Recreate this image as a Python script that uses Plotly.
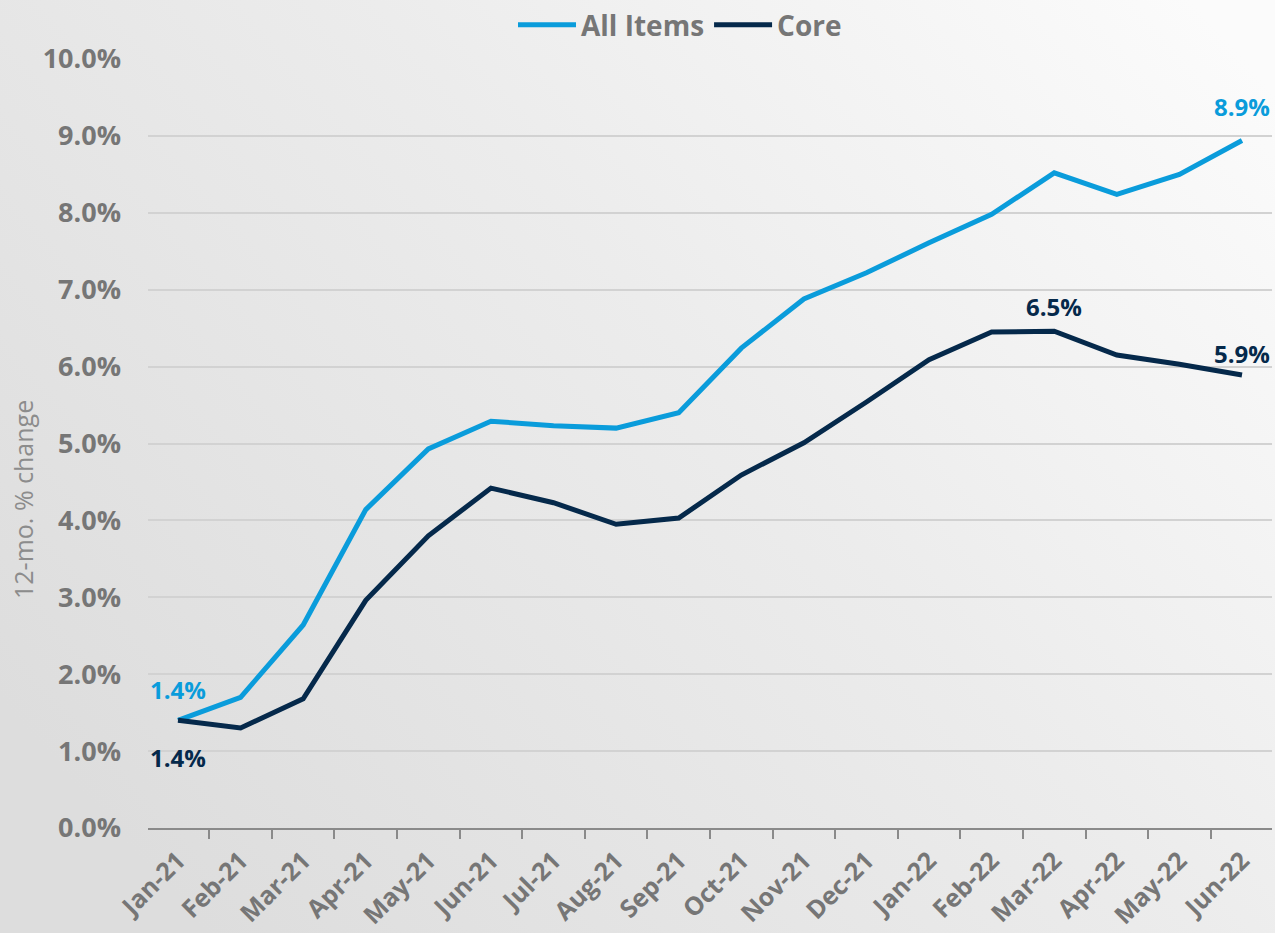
import plotly.graph_objects as go

months = ["Jan-21", "Feb-21", "Mar-21", "Apr-21", "May-21", "Jun-21", "Jul-21", "Aug-21",
          "Sep-21", "Oct-21", "Nov-21", "Dec-21", "Jan-22", "Feb-22", "Mar-22", "Apr-22",
          "May-22", "Jun-22"]
all_items = [1.4, 1.7, 2.64, 4.14, 4.93, 5.29, 5.23, 5.2, 5.4, 6.24, 6.88, 7.22, 7.61,
             7.98, 8.52, 8.24, 8.5, 8.94]
core = [1.4, 1.3, 1.68, 2.96, 3.8, 4.42, 4.23, 3.95, 4.03, 4.59, 5.01, 5.54, 6.09,
        6.45, 6.46, 6.15, 6.03, 5.89]

ytick_vals = [0, 1, 2, 3, 4, 5, 6, 7, 8, 9, 10]
ytick_text = [f"{v:.1f}%" for v in ytick_vals]

BLUE = "#0A9CDB"
NAVY = "#05294B"
GRAY = "#767676"
FONT = "Open Sans"

W, H = 1275, 933
ML, MR, MT, MB = 148, 3, 59, 105
PW, PH = W - ML - MR, H - MT - MB

# background wash: soft grey on the left fading to near white at the top right
bg_svg = (
    "data:image/svg+xml;utf8,"
    "<svg xmlns='http://www.w3.org/2000/svg' width='1275' height='933' preserveAspectRatio='none'>"
    "<defs><linearGradient id='g' x1='0' y1='0.75' x2='1' y2='0.1'>"
    "<stop offset='0' stop-color='%23dddddd'/>"
    "<stop offset='0.55' stop-color='%23ececec'/>"
    "<stop offset='1' stop-color='%23fbfbfb'/>"
    "</linearGradient></defs>"
    "<rect width='1275' height='933' fill='url(%23g)'/></svg>"
)

fig = go.Figure()
fig.add_trace(go.Scatter(x=months, y=all_items, name="All Items", mode="lines",
                         line=dict(color=BLUE, width=5)))
fig.add_trace(go.Scatter(x=months, y=core, name="Core", mode="lines",
                         line=dict(color=NAVY, width=5)))

label_font = dict(family=FONT, size=24, weight="bold")
labels = [
    (0, all_items[0], BLUE, 31),
    (0, core[0], NAVY, -37),
    (14, core[14], NAVY, 25),
    (17, core[17], NAVY, 22),
    (17, all_items[17], BLUE, 34),
]
for i, val, color, shift in labels:
    fig.add_annotation(x=months[i], y=val, text=f"{val:.1f}%", showarrow=False,
                       yshift=shift, font=dict(color=color, **label_font))

fig.add_annotation(text="12-mo. % change", xref="paper", yref="paper",
                   x=(23 - ML) / PW, y=(H - MB - 500) / PH, textangle=-90, showarrow=False,
                   xanchor="center", yanchor="middle",
                   font=dict(family=FONT, size=25, color="#8c8c8c"))

fig.update_layout(
    width=W, height=H,
    margin=dict(l=ML, r=MR, t=MT, b=MB, autoexpand=False),
    paper_bgcolor="rgba(0,0,0,0)",
    plot_bgcolor="rgba(0,0,0,0)",
    images=[dict(source=bg_svg, xref="paper", yref="paper", x=-ML / PW, y=1 + MT / PH,
                 sizex=W / PW, sizey=H / PH, sizing="stretch",
                 xanchor="left", yanchor="top", layer="below")],
    font=dict(family=FONT, color=GRAY),
    showlegend=True,
    legend=dict(orientation="h", xref="container", yref="container",
                x=680 / W, xanchor="center", y=1 - 25 / H, yanchor="middle",
                font=dict(family=FONT, size=28, color=GRAY, weight="bold"),
                bgcolor="rgba(0,0,0,0)", itemwidth=58, tracegroupgap=0),
    xaxis=dict(
        type="category", tickson="boundaries", ticks="outside", ticklen=9,
        tickcolor="#8a8a8a", tickwidth=2, showline=True, linecolor="#8a8a8a",
        linewidth=2, showgrid=False, tickangle=-45, automargin=False,
        ticklabelstandoff=6,
        tickfont=dict(family=FONT, size=25, color=GRAY, weight="bold"),
    ),
    yaxis=dict(
        range=[0, 10], tickvals=ytick_vals, ticktext=ytick_text, automargin=False,
        showgrid=True, gridcolor="#d2d2d2", gridwidth=2, zeroline=False,
        ticks="", ticklabelstandoff=26,
        tickfont=dict(family=FONT, size=27, color=GRAY, weight="bold"),
    ),
)

fig.write_html("out.html")
